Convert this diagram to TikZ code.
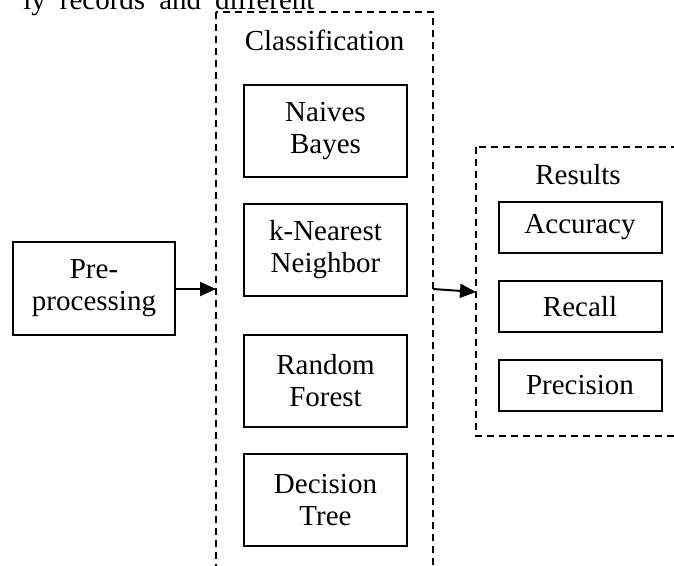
\documentclass[tikz,border=0pt]{standalone}
\usepackage{fontspec}
\setmainfont{Liberation Serif}
\usetikzlibrary{arrows.meta}

\tikzset{
  algbox/.style={draw,line width=2pt,minimum width=163pt,minimum height=92pt,
    align=center,inner sep=0pt,font=\fontsize{29}{32}\selectfont},
  metricbox/.style={algbox,minimum height=51pt},
  groupframe/.style={line width=2pt,dash pattern=on 7pt off 5pt},
  grouplabel/.style={font=\fontsize{29}{32}\selectfont},
  flow/.style={line width=2pt,-{Triangle[length=16pt,width=14pt]}}
}

\begin{document}
\begin{tikzpicture}[x=1pt,y=-1pt]
    \useasboundingbox (0,0) rectangle (674,565);
    \clip (0,0) rectangle (674,565);

    \node[grouplabel,anchor=base east] (toptext) at (318,9)
      {ly\hspace{14pt}records\hspace{14pt}and\hspace{14pt}different};

    % classification group
    \draw[groupframe] (216,12) rectangle (433,600);
    \node[grouplabel] (clslabel) at (324.5,40) {Classification};
    \node[algbox] (nb) at (325.5,131) {Naives\\Bayes};
    \node[algbox] (knn) at (325.5,249.5) {k-Nearest\\Neighbor};
    \node[algbox] (rf) at (325.5,380.5) {Random\\Forest};
    \node[algbox] (dt) at (325.5,500) {Decision\\Tree};

    % results group
    \draw[groupframe] (476,147) rectangle (720,436);
    \node[grouplabel] (reslabel) at (578,175) {Results};
    \node[metricbox] (acc) at (580,227) {Accuracy};
    \node[metricbox] (rec) at (580,306.5) {Recall};
    \node[metricbox] (prec) at (580,385.5) {Precision};

    \node[algbox,minimum width=162pt,minimum height=93pt] (pre) at (94,288.5) {Pre-\\processing};

    \coordinate (clsin) at (216,289);
    \coordinate (clsout) at (433,289);
    \coordinate (resin) at (476,292);
    \draw[flow] (pre.east |- clsin) -- (clsin);
    \draw[flow] (clsout) -- (resin);
\end{tikzpicture}
\end{document}
